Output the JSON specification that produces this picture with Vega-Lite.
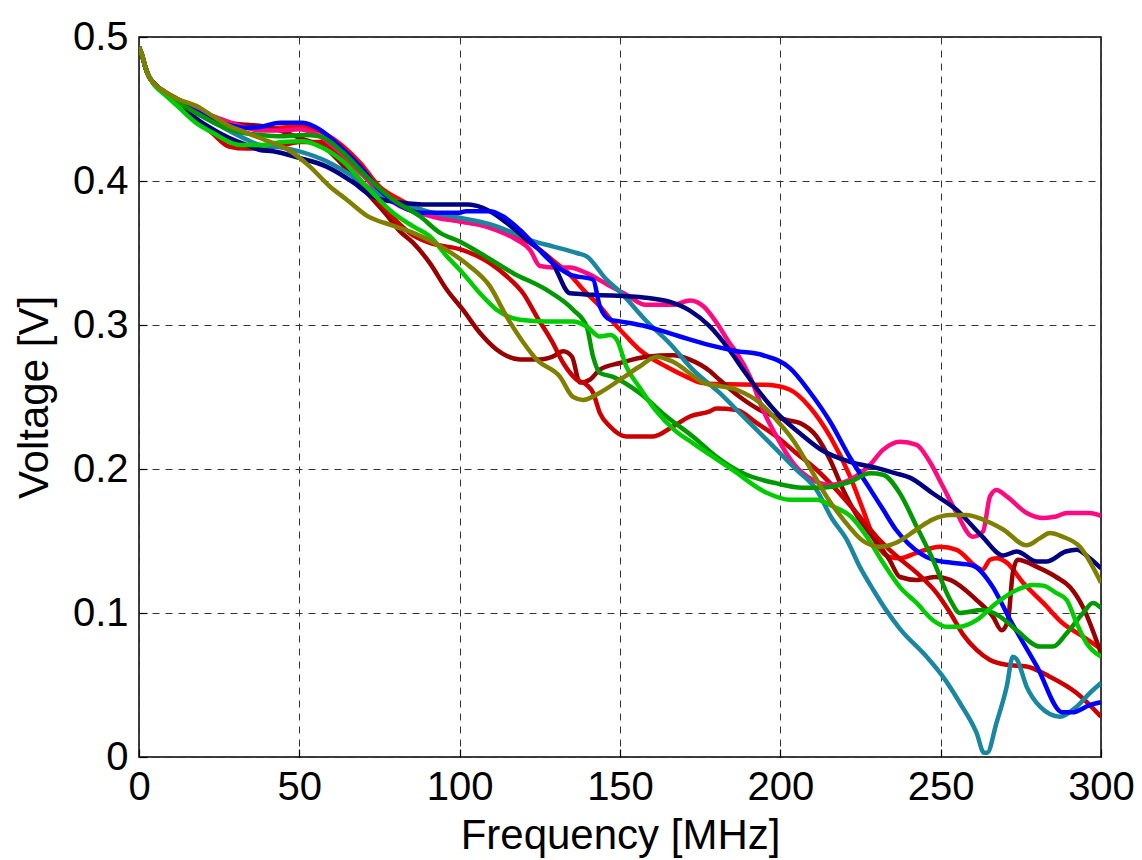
{
  "$schema": "https://vega.github.io/schema/vega-lite/v6.json",
  "width": 962,
  "height": 720,
  "autosize": {"type": "none"},
  "padding": {"left": 139, "top": 37, "right": 41, "bottom": 103},
  "background": "#ffffff",
  "config": {
    "view": {"stroke": "#000000", "strokeWidth": 1.5},
    "font": "Liberation Sans",
    "axis": {
      "labelFont": "Liberation Sans",
      "titleFont": "Liberation Sans",
      "labelFontSize": 40,
      "titleFontSize": 42,
      "labelColor": "#000000",
      "titleColor": "#000000",
      "titleFontWeight": "normal",
      "domain": false,
      "grid": true,
      "gridColor": "#333333",
      "gridDash": [7, 6],
      "gridWidth": 1,
      "ticks": true,
      "tickColor": "#000000",
      "tickSize": -8,
      "tickWidth": 1.2,
      "labelFlush": false,
      "labelOverlap": false
    }
  },
  "data": {"values": [
    {"s":"red","f":0,"v":0.493},{"s":"red","f":1,"v":0.487},{"s":"red","f":2,"v":0.479},{"s":"red","f":3,"v":0.473},{"s":"red","f":5,"v":0.467},{"s":"red","f":8,"v":0.462},
    {"s":"red","f":12,"v":0.456},{"s":"red","f":18,"v":0.45},{"s":"red","f":23,"v":0.444},{"s":"red","f":28,"v":0.44},{"s":"red","f":33.6,"v":0.437},{"s":"red","f":37.7,"v":0.436},{"s":"red","f":44,"v":0.437},{"s":"red","f":50,"v":0.438},{"s":"red","f":57.4,"v":0.4335},{"s":"red","f":63.7,"v":0.424},{"s":"red","f":69,"v":0.4125},{"s":"red","f":75,"v":0.396},{"s":"red","f":81.4,"v":0.387},{"s":"red","f":87,"v":0.381},{"s":"red","f":94,"v":0.375},{"s":"red","f":100,"v":0.372},{"s":"red","f":109.4,"v":0.3685},{"s":"red","f":116,"v":0.363},{"s":"red","f":122,"v":0.357},{"s":"red","f":129,"v":0.345},{"s":"red","f":133.4,"v":0.337},{"s":"red","f":139.6,"v":0.322},{"s":"red","f":143.7,"v":0.313},{"s":"red","f":147.8,"v":0.302},{"s":"red","f":152,"v":0.292},{"s":"red","f":156,"v":0.283},{"s":"red","f":164.5,"v":0.271},{"s":"red","f":170.8,"v":0.264},{"s":"red","f":175,"v":0.26},{"s":"red","f":180,"v":0.259},{"s":"red","f":195.7,"v":0.2585},{"s":"red","f":203,"v":0.255},{"s":"red","f":209,"v":0.2434},{"s":"red","f":215.5,"v":0.2226},{"s":"red","f":221.7,"v":0.195},{"s":"red","f":225.8,"v":0.1716},{"s":"red","f":230,"v":0.148},{"s":"red","f":234,"v":0.139},{"s":"red","f":237.3,"v":0.138},{"s":"red","f":242.5,"v":0.1418},{"s":"red","f":249.8,"v":0.146},{"s":"red","f":255,"v":0.1438},{"s":"red","f":261.2,"v":0.132},{"s":"red","f":263,"v":0.13},{"s":"red","f":265.4,"v":0.137},{"s":"red","f":267.4,"v":0.138},{"s":"red","f":270.6,"v":0.135},{"s":"red","f":275.7,"v":0.121},{"s":"red","f":282,"v":0.107},{"s":"red","f":288,"v":0.093},{"s":"red","f":294.4,"v":0.0836},{"s":"red","f":300,"v":0.075},

    {"s":"darkred","f":0,"v":0.493},{"s":"darkred","f":1,"v":0.487},{"s":"darkred","f":2,"v":0.479},{"s":"darkred","f":3,"v":0.473},{"s":"darkred","f":5,"v":0.467},{"s":"darkred","f":8,"v":0.462},
    {"s":"darkred","f":12,"v":0.457},{"s":"darkred","f":18,"v":0.45},{"s":"darkred","f":23,"v":0.445},{"s":"darkred","f":28,"v":0.4405},{"s":"darkred","f":33.6,"v":0.439},{"s":"darkred","f":38.7,"v":0.438},{"s":"darkred","f":44,"v":0.435},{"s":"darkred","f":50,"v":0.43},{"s":"darkred","f":58.5,"v":0.422},{"s":"darkred","f":64.8,"v":0.408},{"s":"darkred","f":71,"v":0.392},{"s":"darkred","f":77,"v":0.377},{"s":"darkred","f":81.4,"v":0.365},{"s":"darkred","f":85.5,"v":0.357},{"s":"darkred","f":90.7,"v":0.343},{"s":"darkred","f":96,"v":0.3245},{"s":"darkred","f":101,"v":0.3106},{"s":"darkred","f":106.3,"v":0.2946},{"s":"darkred","f":111.5,"v":0.283},{"s":"darkred","f":118.8,"v":0.276},{"s":"darkred","f":125,"v":0.276},{"s":"darkred","f":129,"v":0.278},{"s":"darkred","f":132.3,"v":0.2817},{"s":"darkred","f":135,"v":0.278},{"s":"darkred","f":137.5,"v":0.26},{"s":"darkred","f":140.6,"v":0.262},{"s":"darkred","f":143.7,"v":0.269},{"s":"darkred","f":150,"v":0.2736},{"s":"darkred","f":158.3,"v":0.278},{"s":"darkred","f":166.5,"v":0.279},{"s":"darkred","f":171.8,"v":0.276},{"s":"darkred","f":178,"v":0.268},{"s":"darkred","f":180,"v":0.264},{"s":"darkred","f":187.4,"v":0.25},{"s":"darkred","f":193.6,"v":0.241},{"s":"darkred","f":202,"v":0.234},{"s":"darkred","f":206,"v":0.232},{"s":"darkred","f":211.3,"v":0.2226},{"s":"darkred","f":215.5,"v":0.2064},{"s":"darkred","f":219.6,"v":0.1855},{"s":"darkred","f":223.8,"v":0.168},{"s":"darkred","f":228,"v":0.155},{"s":"darkred","f":234,"v":0.137},{"s":"darkred","f":237.3,"v":0.125},{"s":"darkred","f":242.5,"v":0.123},{"s":"darkred","f":248.7,"v":0.125},{"s":"darkred","f":253,"v":0.123},{"s":"darkred","f":261.2,"v":0.109},{"s":"darkred","f":266.3,"v":0.0975},{"s":"darkred","f":269,"v":0.088},{"s":"darkred","f":271,"v":0.095},{"s":"darkred","f":272.5,"v":0.128},{"s":"darkred","f":274,"v":0.137},{"s":"darkred","f":280,"v":0.132},{"s":"darkred","f":286,"v":0.125},{"s":"darkred","f":290.3,"v":0.118},{"s":"darkred","f":294.4,"v":0.104},{"s":"darkred","f":300,"v":0.072},

    {"s":"crimson","f":0,"v":0.493},{"s":"crimson","f":1,"v":0.487},{"s":"crimson","f":2,"v":0.479},{"s":"crimson","f":3,"v":0.473},{"s":"crimson","f":5,"v":0.467},{"s":"crimson","f":8,"v":0.461},
    {"s":"crimson","f":12,"v":0.453},{"s":"crimson","f":18,"v":0.443},{"s":"crimson","f":23,"v":0.433},{"s":"crimson","f":28,"v":0.424},{"s":"crimson","f":33.6,"v":0.4225},{"s":"crimson","f":38.7,"v":0.423},{"s":"crimson","f":45,"v":0.425},{"s":"crimson","f":50,"v":0.427},{"s":"crimson","f":56.4,"v":0.427},{"s":"crimson","f":63.7,"v":0.415},{"s":"crimson","f":71,"v":0.395},{"s":"crimson","f":79,"v":0.375},{"s":"crimson","f":85,"v":0.363},{"s":"crimson","f":90.7,"v":0.357},{"s":"crimson","f":101,"v":0.352},{"s":"crimson","f":109.4,"v":0.343},{"s":"crimson","f":114.6,"v":0.334},{"s":"crimson","f":119.8,"v":0.322},{"s":"crimson","f":124,"v":0.306},{"s":"crimson","f":129,"v":0.2877},{"s":"crimson","f":132.3,"v":0.2736},{"s":"crimson","f":136.5,"v":0.262},{"s":"crimson","f":139.6,"v":0.2585},{"s":"crimson","f":141.6,"v":0.253},{"s":"crimson","f":143.7,"v":0.239},{"s":"crimson","f":146.9,"v":0.2295},{"s":"crimson","f":152,"v":0.2226},{"s":"crimson","f":160.3,"v":0.2226},{"s":"crimson","f":166.5,"v":0.2295},{"s":"crimson","f":171.8,"v":0.2365},{"s":"crimson","f":178,"v":0.24},{"s":"crimson","f":180,"v":0.242},{"s":"crimson","f":186.4,"v":0.241},{"s":"crimson","f":192.6,"v":0.232},{"s":"crimson","f":198.8,"v":0.2226},{"s":"crimson","f":205,"v":0.211},{"s":"crimson","f":211.3,"v":0.1995},{"s":"crimson","f":217.5,"v":0.1855},{"s":"crimson","f":223.8,"v":0.1695},{"s":"crimson","f":230,"v":0.153},{"s":"crimson","f":236,"v":0.14},{"s":"crimson","f":242.5,"v":0.128},{"s":"crimson","f":248.7,"v":0.114},{"s":"crimson","f":253,"v":0.1},{"s":"crimson","f":257,"v":0.085},{"s":"crimson","f":261.2,"v":0.0744},{"s":"crimson","f":265.4,"v":0.0674},{"s":"crimson","f":270.6,"v":0.064},{"s":"crimson","f":276.8,"v":0.0628},{"s":"crimson","f":284,"v":0.0558},{"s":"crimson","f":292.4,"v":0.0444},{"s":"crimson","f":300,"v":0.028},

    {"s":"pink","f":0,"v":0.493},{"s":"pink","f":1,"v":0.487},{"s":"pink","f":2,"v":0.479},{"s":"pink","f":3,"v":0.473},{"s":"pink","f":5,"v":0.467},{"s":"pink","f":8,"v":0.462},
    {"s":"pink","f":12,"v":0.456},{"s":"pink","f":18,"v":0.45},{"s":"pink","f":23,"v":0.445},{"s":"pink","f":28,"v":0.441},{"s":"pink","f":33.6,"v":0.437},{"s":"pink","f":37.7,"v":0.435},{"s":"pink","f":44,"v":0.435},{"s":"pink","f":50,"v":0.436},{"s":"pink","f":56.4,"v":0.431},{"s":"pink","f":62.7,"v":0.42},{"s":"pink","f":69,"v":0.406},{"s":"pink","f":75,"v":0.392},{"s":"pink","f":81.4,"v":0.3825},{"s":"pink","f":87,"v":0.378},{"s":"pink","f":93.9,"v":0.374},{"s":"pink","f":100,"v":0.372},{"s":"pink","f":109.4,"v":0.3675},{"s":"pink","f":116.7,"v":0.3605},{"s":"pink","f":122,"v":0.352},{"s":"pink","f":125,"v":0.341},{"s":"pink","f":129,"v":0.34},{"s":"pink","f":134.4,"v":0.34},{"s":"pink","f":139.6,"v":0.336},{"s":"pink","f":146.9,"v":0.327},{"s":"pink","f":152,"v":0.321},{"s":"pink","f":158,"v":0.314},{"s":"pink","f":166.5,"v":0.314},{"s":"pink","f":171.8,"v":0.317},{"s":"pink","f":176,"v":0.313},{"s":"pink","f":180,"v":0.302},{"s":"pink","f":184,"v":0.288},{"s":"pink","f":186.4,"v":0.2806},{"s":"pink","f":190.5,"v":0.2643},{"s":"pink","f":194.6,"v":0.241},{"s":"pink","f":198.8,"v":0.2226},{"s":"pink","f":204,"v":0.204},{"s":"pink","f":210,"v":0.1925},{"s":"pink","f":215.5,"v":0.189},{"s":"pink","f":221.7,"v":0.1925},{"s":"pink","f":228,"v":0.203},{"s":"pink","f":232,"v":0.2133},{"s":"pink","f":237.3,"v":0.219},{"s":"pink","f":242.5,"v":0.2168},{"s":"pink","f":246.6,"v":0.205},{"s":"pink","f":250.7,"v":0.1878},{"s":"pink","f":255,"v":0.1695},{"s":"pink","f":260,"v":0.153},{"s":"pink","f":263.2,"v":0.1566},{"s":"pink","f":265.4,"v":0.181},{"s":"pink","f":267.4,"v":0.1855},{"s":"pink","f":270.6,"v":0.181},{"s":"pink","f":276.8,"v":0.1695},{"s":"pink","f":282,"v":0.166},{"s":"pink","f":286,"v":0.167},{"s":"pink","f":289.3,"v":0.1695},{"s":"pink","f":296.5,"v":0.1695},{"s":"pink","f":300,"v":0.1675},

    {"s":"teal","f":0,"v":0.493},{"s":"teal","f":1,"v":0.487},{"s":"teal","f":2,"v":0.479},{"s":"teal","f":3,"v":0.473},{"s":"teal","f":5,"v":0.467},{"s":"teal","f":8,"v":0.461},
    {"s":"teal","f":12,"v":0.455},{"s":"teal","f":18,"v":0.447},{"s":"teal","f":23,"v":0.441},{"s":"teal","f":28,"v":0.435},{"s":"teal","f":33.6,"v":0.4288},{"s":"teal","f":37.7,"v":0.425},{"s":"teal","f":44,"v":0.4235},{"s":"teal","f":50,"v":0.4206},{"s":"teal","f":58.5,"v":0.4137},{"s":"teal","f":66.8,"v":0.403},{"s":"teal","f":74,"v":0.392},{"s":"teal","f":81.4,"v":0.385},{"s":"teal","f":89.7,"v":0.379},{"s":"teal","f":100,"v":0.3745},{"s":"teal","f":109.4,"v":0.37},{"s":"teal","f":116.7,"v":0.364},{"s":"teal","f":122,"v":0.359},{"s":"teal","f":129,"v":0.3546},{"s":"teal","f":136.5,"v":0.35},{"s":"teal","f":139.6,"v":0.3477},{"s":"teal","f":145.8,"v":0.3315},{"s":"teal","f":150,"v":0.323},{"s":"teal","f":158.3,"v":0.3026},{"s":"teal","f":165.6,"v":0.287},{"s":"teal","f":172.7,"v":0.269},{"s":"teal","f":181,"v":0.253},{"s":"teal","f":188.4,"v":0.2365},{"s":"teal","f":196.8,"v":0.218},{"s":"teal","f":205,"v":0.1995},{"s":"teal","f":211.3,"v":0.1855},{"s":"teal","f":216,"v":0.166},{"s":"teal","f":220.7,"v":0.151},{"s":"teal","f":224.8,"v":0.132},{"s":"teal","f":229,"v":0.116},{"s":"teal","f":233,"v":0.102},{"s":"teal","f":237.3,"v":0.089},{"s":"teal","f":245.6,"v":0.0697},{"s":"teal","f":250.7,"v":0.0558},{"s":"teal","f":256,"v":0.0375},{"s":"teal","f":261.2,"v":0.0167},{"s":"teal","f":263.5,"v":0.003},{"s":"teal","f":264.5,"v":0.003},{"s":"teal","f":267.4,"v":0.0236},{"s":"teal","f":270.6,"v":0.0489},{"s":"teal","f":272.5,"v":0.0697},{"s":"teal","f":273.7,"v":0.068},{"s":"teal","f":276.8,"v":0.0489},{"s":"teal","f":281,"v":0.035},{"s":"teal","f":287.2,"v":0.028},{"s":"teal","f":292.4,"v":0.035},{"s":"teal","f":296.5,"v":0.0444},{"s":"teal","f":300,"v":0.0514},

    {"s":"navy","f":0,"v":0.493},{"s":"navy","f":1,"v":0.487},{"s":"navy","f":2,"v":0.479},{"s":"navy","f":3,"v":0.473},{"s":"navy","f":5,"v":0.467},{"s":"navy","f":8,"v":0.461},
    {"s":"navy","f":12,"v":0.453},{"s":"navy","f":18,"v":0.443},{"s":"navy","f":23,"v":0.436},{"s":"navy","f":28,"v":0.43},{"s":"navy","f":33.6,"v":0.425},{"s":"navy","f":37.7,"v":0.4215},{"s":"navy","f":41.8,"v":0.4207},{"s":"navy","f":50,"v":0.416},{"s":"navy","f":58.5,"v":0.41},{"s":"navy","f":66.8,"v":0.399},{"s":"navy","f":73,"v":0.389},{"s":"navy","f":78,"v":0.386},{"s":"navy","f":81.4,"v":0.385},{"s":"navy","f":90,"v":0.3836},{"s":"navy","f":102.6,"v":0.3836},{"s":"navy","f":109.4,"v":0.379},{"s":"navy","f":114.6,"v":0.371},{"s":"navy","f":121,"v":0.359},{"s":"navy","f":129,"v":0.343},{"s":"navy","f":134.4,"v":0.322},{"s":"navy","f":141.6,"v":0.321},{"s":"navy","f":158,"v":0.319},{"s":"navy","f":165.6,"v":0.316},{"s":"navy","f":171.8,"v":0.31},{"s":"navy","f":178,"v":0.299},{"s":"navy","f":184,"v":0.283},{"s":"navy","f":188.4,"v":0.269},{"s":"navy","f":193.6,"v":0.253},{"s":"navy","f":200,"v":0.2365},{"s":"navy","f":206,"v":0.225},{"s":"navy","f":213,"v":0.213},{"s":"navy","f":221.7,"v":0.205},{"s":"navy","f":230,"v":0.2008},{"s":"navy","f":236,"v":0.197},{"s":"navy","f":240.4,"v":0.194},{"s":"navy","f":247.6,"v":0.183},{"s":"navy","f":255,"v":0.1716},{"s":"navy","f":263,"v":0.153},{"s":"navy","f":269.5,"v":0.14},{"s":"navy","f":273.7,"v":0.1427},{"s":"navy","f":280,"v":0.1357},{"s":"navy","f":283,"v":0.1357},{"s":"navy","f":289,"v":0.1427},{"s":"navy","f":292.4,"v":0.144},{"s":"navy","f":296.5,"v":0.138},{"s":"navy","f":300,"v":0.131},

    {"s":"blue","f":0,"v":0.493},{"s":"blue","f":1,"v":0.487},{"s":"blue","f":2,"v":0.479},{"s":"blue","f":3,"v":0.473},{"s":"blue","f":5,"v":0.467},{"s":"blue","f":8,"v":0.461},
    {"s":"blue","f":12,"v":0.455},{"s":"blue","f":18,"v":0.448},{"s":"blue","f":23,"v":0.443},{"s":"blue","f":28,"v":0.439},{"s":"blue","f":33.6,"v":0.437},{"s":"blue","f":37.7,"v":0.4375},{"s":"blue","f":44,"v":0.4405},{"s":"blue","f":51,"v":0.4405},{"s":"blue","f":56.4,"v":0.4357},{"s":"blue","f":62.7,"v":0.424},{"s":"blue","f":69,"v":0.41},{"s":"blue","f":75,"v":0.394},{"s":"blue","f":81.4,"v":0.383},{"s":"blue","f":87.6,"v":0.378},{"s":"blue","f":100,"v":0.378},{"s":"blue","f":102,"v":0.379},{"s":"blue","f":109.4,"v":0.379},{"s":"blue","f":113.5,"v":0.3755},{"s":"blue","f":118.8,"v":0.366},{"s":"blue","f":124,"v":0.354},{"s":"blue","f":129,"v":0.343},{"s":"blue","f":134.4,"v":0.335},{"s":"blue","f":141.6,"v":0.3315},{"s":"blue","f":143.7,"v":0.313},{"s":"blue","f":146.9,"v":0.3037},{"s":"blue","f":150,"v":0.3025},{"s":"blue","f":158.3,"v":0.299},{"s":"blue","f":168.7,"v":0.292},{"s":"blue","f":178,"v":0.286},{"s":"blue","f":186,"v":0.282},{"s":"blue","f":194.6,"v":0.279},{"s":"blue","f":203,"v":0.27},{"s":"blue","f":209,"v":0.254},{"s":"blue","f":215.5,"v":0.233},{"s":"blue","f":221.7,"v":0.208},{"s":"blue","f":228,"v":0.186},{"s":"blue","f":232,"v":0.172},{"s":"blue","f":236,"v":0.158},{"s":"blue","f":240,"v":0.148},{"s":"blue","f":247.6,"v":0.137},{"s":"blue","f":253,"v":0.135},{"s":"blue","f":260,"v":0.133},{"s":"blue","f":266,"v":0.119},{"s":"blue","f":271.6,"v":0.0955},{"s":"blue","f":280,"v":0.063},{"s":"blue","f":288,"v":0.031},{"s":"blue","f":291,"v":0.031},{"s":"blue","f":296.5,"v":0.036},{"s":"blue","f":300,"v":0.038},

    {"s":"green","f":0,"v":0.493},{"s":"green","f":1,"v":0.487},{"s":"green","f":2,"v":0.479},{"s":"green","f":3,"v":0.473},{"s":"green","f":5,"v":0.467},{"s":"green","f":8,"v":0.461},
    {"s":"green","f":12,"v":0.455},{"s":"green","f":18,"v":0.447},{"s":"green","f":23,"v":0.441},{"s":"green","f":28,"v":0.436},{"s":"green","f":33.6,"v":0.433},{"s":"green","f":37.7,"v":0.432},{"s":"green","f":44,"v":0.431},{"s":"green","f":51,"v":0.432},{"s":"green","f":56.4,"v":0.431},{"s":"green","f":63.7,"v":0.4196},{"s":"green","f":71,"v":0.403},{"s":"green","f":79.2,"v":0.387},{"s":"green","f":87.6,"v":0.3755},{"s":"green","f":93.9,"v":0.364},{"s":"green","f":100,"v":0.358},{"s":"green","f":106.3,"v":0.35},{"s":"green","f":116.7,"v":0.336},{"s":"green","f":127,"v":0.3245},{"s":"green","f":135.4,"v":0.3106},{"s":"green","f":139.6,"v":0.299},{"s":"green","f":141.6,"v":0.278},{"s":"green","f":143.7,"v":0.2668},{"s":"green","f":147.8,"v":0.264},{"s":"green","f":156,"v":0.253},{"s":"green","f":164.5,"v":0.2365},{"s":"green","f":172.7,"v":0.2226},{"s":"green","f":180,"v":0.2087},{"s":"green","f":188.4,"v":0.197},{"s":"green","f":198.8,"v":0.19},{"s":"green","f":207,"v":0.187},{"s":"green","f":213,"v":0.187},{"s":"green","f":221.7,"v":0.191},{"s":"green","f":228,"v":0.197},{"s":"green","f":232,"v":0.196},{"s":"green","f":237.3,"v":0.183},{"s":"green","f":242.5,"v":0.16},{"s":"green","f":247.6,"v":0.137},{"s":"green","f":253,"v":0.109},{"s":"green","f":256,"v":0.1},{"s":"green","f":263,"v":0.102},{"s":"green","f":268.5,"v":0.0975},{"s":"green","f":273.7,"v":0.088},{"s":"green","f":281,"v":0.0767},{"s":"green","f":285,"v":0.0767},{"s":"green","f":289.3,"v":0.086},{"s":"green","f":294.4,"v":0.1},{"s":"green","f":297.5,"v":0.107},{"s":"green","f":300,"v":0.1035},

    {"s":"lime","f":0,"v":0.493},{"s":"lime","f":1,"v":0.487},{"s":"lime","f":2,"v":0.479},{"s":"lime","f":3,"v":0.473},{"s":"lime","f":5,"v":0.466},{"s":"lime","f":8,"v":0.46},
    {"s":"lime","f":12,"v":0.452},{"s":"lime","f":18,"v":0.44},{"s":"lime","f":23,"v":0.4335},{"s":"lime","f":31.5,"v":0.425},{"s":"lime","f":38.7,"v":0.425},{"s":"lime","f":44,"v":0.427},{"s":"lime","f":51,"v":0.4276},{"s":"lime","f":56.4,"v":0.424},{"s":"lime","f":63.7,"v":0.4135},{"s":"lime","f":71,"v":0.396},{"s":"lime","f":79.2,"v":0.378},{"s":"lime","f":85.5,"v":0.3685},{"s":"lime","f":90.7,"v":0.3616},{"s":"lime","f":96,"v":0.3477},{"s":"lime","f":101,"v":0.336},{"s":"lime","f":106.3,"v":0.322},{"s":"lime","f":111.5,"v":0.3106},{"s":"lime","f":118.8,"v":0.3037},{"s":"lime","f":127,"v":0.3025},{"s":"lime","f":135.4,"v":0.3025},{"s":"lime","f":139.6,"v":0.299},{"s":"lime","f":143.7,"v":0.292},{"s":"lime","f":147,"v":0.293},{"s":"lime","f":149,"v":0.2898},{"s":"lime","f":152,"v":0.271},{"s":"lime","f":156,"v":0.257},{"s":"lime","f":161,"v":0.241},{"s":"lime","f":167,"v":0.227},{"s":"lime","f":172.7,"v":0.218},{"s":"lime","f":178,"v":0.21},{"s":"lime","f":185,"v":0.1995},{"s":"lime","f":195.7,"v":0.1835},{"s":"lime","f":203,"v":0.1786},{"s":"lime","f":211.3,"v":0.1786},{"s":"lime","f":216.4,"v":0.174},{"s":"lime","f":222,"v":0.167},{"s":"lime","f":227,"v":0.153},{"s":"lime","f":232,"v":0.135},{"s":"lime","f":237.3,"v":0.118},{"s":"lime","f":242.5,"v":0.107},{"s":"lime","f":247.6,"v":0.095},{"s":"lime","f":251.8,"v":0.0905},{"s":"lime","f":256,"v":0.0905},{"s":"lime","f":261.2,"v":0.095},{"s":"lime","f":267.4,"v":0.107},{"s":"lime","f":273.7,"v":0.116},{"s":"lime","f":278.8,"v":0.1195},{"s":"lime","f":282,"v":0.119},{"s":"lime","f":286,"v":0.114},{"s":"lime","f":289.3,"v":0.109},{"s":"lime","f":292.4,"v":0.093},{"s":"lime","f":295.5,"v":0.079},{"s":"lime","f":300,"v":0.0697},

    {"s":"olive","f":0,"v":0.493},{"s":"olive","f":1,"v":0.487},{"s":"olive","f":2,"v":0.479},{"s":"olive","f":3,"v":0.473},{"s":"olive","f":5,"v":0.467},{"s":"olive","f":8,"v":0.462},
    {"s":"olive","f":12,"v":0.457},{"s":"olive","f":18,"v":0.452},{"s":"olive","f":23,"v":0.445},{"s":"olive","f":28.4,"v":0.438},{"s":"olive","f":33,"v":0.434},{"s":"olive","f":38.7,"v":0.429},{"s":"olive","f":47,"v":0.421},{"s":"olive","f":53.3,"v":0.41},{"s":"olive","f":59.6,"v":0.396},{"s":"olive","f":64.8,"v":0.387},{"s":"olive","f":71,"v":0.376},{"s":"olive","f":79.2,"v":0.369},{"s":"olive","f":85.5,"v":0.364},{"s":"olive","f":96,"v":0.352},{"s":"olive","f":103,"v":0.341},{"s":"olive","f":109.4,"v":0.327},{"s":"olive","f":114.6,"v":0.306},{"s":"olive","f":119.8,"v":0.288},{"s":"olive","f":124,"v":0.276},{"s":"olive","f":131.3,"v":0.264},{"s":"olive","f":135.4,"v":0.25},{"s":"olive","f":138.5,"v":0.248},{"s":"olive","f":143.7,"v":0.253},{"s":"olive","f":150,"v":0.262},{"s":"olive","f":156,"v":0.271},{"s":"olive","f":161.4,"v":0.278},{"s":"olive","f":166.5,"v":0.2745},{"s":"olive","f":176,"v":0.26},{"s":"olive","f":186.4,"v":0.255},{"s":"olive","f":193.6,"v":0.246},{"s":"olive","f":198.8,"v":0.234},{"s":"olive","f":204,"v":0.22},{"s":"olive","f":209,"v":0.2017},{"s":"olive","f":214.4,"v":0.181},{"s":"olive","f":219.6,"v":0.165},{"s":"olive","f":225.8,"v":0.15},{"s":"olive","f":231,"v":0.146},{"s":"olive","f":236.3,"v":0.149},{"s":"olive","f":242.5,"v":0.158},{"s":"olive","f":247.6,"v":0.165},{"s":"olive","f":253,"v":0.168},{"s":"olive","f":258,"v":0.168},{"s":"olive","f":263,"v":0.165},{"s":"olive","f":269.5,"v":0.158},{"s":"olive","f":276.8,"v":0.147},{"s":"olive","f":281,"v":0.152},{"s":"olive","f":284,"v":0.1555},{"s":"olive","f":288,"v":0.153},{"s":"olive","f":293.4,"v":0.146},{"s":"olive","f":300,"v":0.121}
  ]},
  "mark": {"type": "line", "strokeWidth": 4.5, "clip": true, "interpolate": "monotone"},
  "encoding": {
    "x": {
      "field": "f", "type": "quantitative",
      "scale": {"domain": [0, 300], "nice": false, "zero": false},
      "axis": {"title": "Frequency [MHz]", "values": [0, 50, 100, 150, 200, 250, 300], "labelPadding": 18, "titlePadding": 8}
    },
    "y": {
      "field": "v", "type": "quantitative",
      "scale": {"domain": [0, 0.5], "nice": false},
      "axis": {"title": "Voltage [V]", "values": [0, 0.1, 0.2, 0.3, 0.4, 0.5], "format": "~g", "labelPadding": 19, "titlePadding": 16}
    },
    "color": {
      "field": "s", "type": "nominal",
      "scale": {
        "domain": ["red", "darkred", "crimson", "pink", "teal", "navy", "blue", "green", "lime", "olive"],
        "range": ["#ff0000", "#990000", "#cc0000", "#ff0a80", "#1a87a0", "#000080", "#0000ff", "#009900", "#00cc00", "#808000"]
      },
      "legend": null
    },
    "order": {"field": "f", "type": "quantitative"}
  }
}
